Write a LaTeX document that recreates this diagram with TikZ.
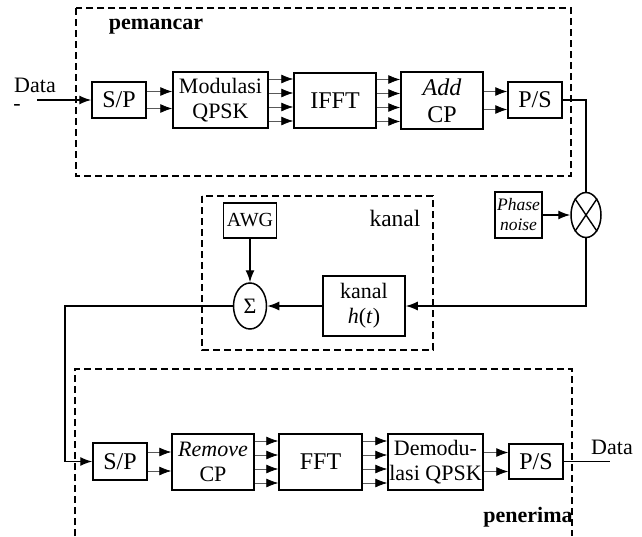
\documentclass[tikz,border=0pt]{standalone}
\usepackage{fontspec}
\setmainfont{Liberation Serif}
\usetikzlibrary{arrows.meta,calc,positioning,shapes.geometric}

\tikzset{
	box/.style={draw,line width=1.5pt,inner sep=0pt,align=center,font=\fontsize{22}{25}\selectfont},
	big/.style={font=\fontsize{24}{27}\selectfont},
	oval/.style={draw,ellipse,line width=1.5pt,inner sep=0pt,font=\fontsize{22}{25}\selectfont},
	zone/.style={draw,line width=1.3pt,dash pattern=on 7pt off 4pt},
	wire/.style={line width=1.4pt},
	link/.style={line width=1.4pt,-{Latex[length=12pt,width=9pt]}},
	stub/.style={line width=0.7pt,draw=black!65,-{Latex[length=12pt,width=9pt,color=black]}},
	teks/.style={inner sep=0pt,font=\fontsize{22}{25}\selectfont}
}

\begin{document}
\begin{tikzpicture}[x=1pt,y=-1pt]
	\useasboundingbox (0,0) rectangle (642,536);
	\draw[zone] (76,8) rectangle (571,176);
	\draw[zone] (202,196) rectangle (433,350);
	\draw[zone] (75,536) |- (572,369) -- (572,536);
	\node[teks,font=\fontsize{22}{25}\selectfont\bfseries] (tx) at (156,27) {pemancar};
	\node[teks,font=\fontsize{23.5}{26}\selectfont] (ch) at (395,218) {kanal};
	\node[teks,font=\fontsize{22}{25}\selectfont\bfseries] (rx) at (528,517) {penerima};
	% pemancar
	\node[teks] (datain) at (35,85) {Data};
	\node[teks] (strip) at (17,107) {-};
	\coordinate (din) at (37,100);
	\node[box,big,minimum width=54pt,minimum height=36pt] (sp1) at (119,100) {S/P};
	\node[box,minimum width=95pt,minimum height=56pt] (mod) at (220.5,100) {Modulasi\\QPSK};
	\node[box,big,minimum width=82pt,minimum height=55pt] (ifft) at (335,100.5) {IFFT};
	\node[box,big,minimum width=82pt,minimum height=57pt] (addcp) at (442,100.5) {\textit{Add}\\CP};
	\node[box,big,minimum width=54pt,minimum height=36pt] (ps1) at (535,100) {P/S};
	\draw[link] (din) -- (sp1.west);
	\foreach \d in {-8.5,8.5} \draw[stub] ($(sp1.east)+(0,\d)$) coordinate (s) -- (s -| mod.west);
	\foreach \d in {-21,-7,7,21} \draw[stub] ($(mod.east)+(0,\d)$) coordinate (s) -- (s -| ifft.west);
	\foreach \d in {-21,-7,7,21} \draw[stub] ($(ifft.east)+(0,\d)$) coordinate (s) -- (s -| addcp.west);
	\foreach \d in {-9,9} \draw[stub] ($(addcp.east)+(0,\d)$) coordinate (s) -- (s -| ps1.west);
	% kanal
	\node[oval,minimum width=30pt,minimum height=45pt] (mix) at (586,215) {};
	\draw[wire] (mix.north west) -- (mix.south east) (mix.north east) -- (mix.south west);
	\node[box,minimum width=47pt,minimum height=46pt,font=\fontsize{17.5}{20}\selectfont\itshape] (pn) at (518.5,215) {Phase\\noise};
	\node[box,minimum width=82pt,minimum height=60pt] (kan) at (364,306) {kanal\\\textit{h}(\textit{t})};
	\node[oval,minimum width=33pt,minimum height=46pt] (sum) at (250,306) {Σ};
	\node[box,minimum width=53pt,minimum height=35pt,font=\fontsize{20}{24}\selectfont] (awg) at (250,220.5) {AWG};
	\draw[wire] (ps1.east) -| (mix.north);
	\draw[link] (pn.east) -- (mix.west);
	\draw[link] (mix.south) |- (kan.east);
	\draw[link] (kan.west) -- (sum.east);
	\draw[link] (awg.south) -- (sum.north);
	\coordinate (bend) at (65,306);
	% penerima
	\node[box,big,minimum width=54pt,minimum height=37pt] (sp2) at (120,461.5) {S/P};
	\node[box,minimum width=82pt,minimum height=56pt] (rcp) at (213,462) {\textit{Remove}\\CP};
	\node[box,big,minimum width=83pt,minimum height=56pt] (fft) at (320.5,462) {FFT};
	\node[box,minimum width=95pt,minimum height=56pt] (dem) at (435.5,462) {Demodu-\\lasi QPSK};
	\node[box,big,minimum width=54pt,minimum height=35pt] (ps2) at (536,461.5) {P/S};
	\draw[link] (sum.west) -- (bend) |- (sp2.west);
	\foreach \d in {-9.5,9.5} \draw[stub] ($(sp2.east)+(0,\d)$) coordinate (s) -- (s -| rcp.west);
	\foreach \d in {-21,-7,7,21} \draw[stub] ($(rcp.east)+(0,\d)$) coordinate (s) -- (s -| fft.west);
	\foreach \d in {-21,-7,7,21} \draw[stub] ($(fft.east)+(0,\d)$) coordinate (s) -- (s -| dem.west);
	\foreach \d in {-9.5,9.5} \draw[stub] ($(dem.east)+(0,\d)$) coordinate (s) -- (s -| ps2.west);
	\node[teks] (dataout) at (612,447) {Data};
	\coordinate (dout) at (610,461.5);
	\draw[wire] (ps2.east) -- (dout);
\end{tikzpicture}
\end{document}
